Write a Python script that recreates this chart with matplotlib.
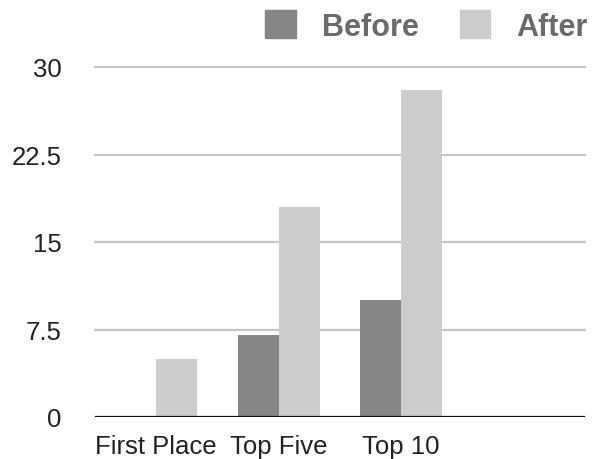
import numpy as np
import matplotlib
matplotlib.use("Agg")
import matplotlib.pyplot as plt
from matplotlib.patches import Patch

plt.rcParams['font.family'] = ['Liberation Sans', 'DejaVu Sans']

categories = ["First Place", "Top Five", "Top 10"]
before = [0, 7, 10]
after = [5, 18, 28]
yticks = [0, 7.5, 15, 22.5, 30]
n_slots = 4  # one empty slot on the right

c_before = "#858685"
c_after = "#cbcccb"

fig = plt.figure(figsize=(5.97, 4.60), dpi=100)
ax = fig.add_axes([95 / 597, 42 / 460, 490 / 597, 350 / 460])

x = np.arange(len(categories))
w = 1 / 3
ax.bar(x - w / 2, before, width=w, color=c_before, zorder=3)
ax.bar(x + w / 2, after, width=w, color=c_after, zorder=3)

ax.set_xlim(-0.5, n_slots - 0.5)
ax.set_ylim(0, 30)
ax.set_yticks(yticks)
ax.set_yticklabels(["0", "7.5", "15", "22.5", "30"])
ax.set_xticks(x)
ax.set_xticklabels(categories)
ax.tick_params(axis="both", length=0, labelsize=18.5, colors="#222222")
ax.tick_params(axis="y", pad=24)
ax.tick_params(axis="x", pad=12)

for v in yticks[1:]:
    ax.axhline(v, color="#c6c6c6", lw=1.6, zorder=1, clip_on=False)
ax.axhline(0, color="#111111", lw=1.6, zorder=4)

for s in ax.spines.values():
    s.set_visible(False)

handles = [Patch(color=c_before, label="Before"), Patch(color=c_after, label="After")]
leg = fig.legend(handles=handles, loc="center left", bbox_to_anchor=(265 / 597, 1 - 27 / 460),
                 ncol=2, frameon=False, fontsize=22, handlelength=1.0, handleheight=1.0,
                 handletextpad=0.85, columnspacing=1.35, borderpad=0, borderaxespad=0)
for t in leg.get_texts():
    t.set_color("#6a6a6a")
    t.set_fontweight("bold")

fig.savefig("out.png", dpi=100)
